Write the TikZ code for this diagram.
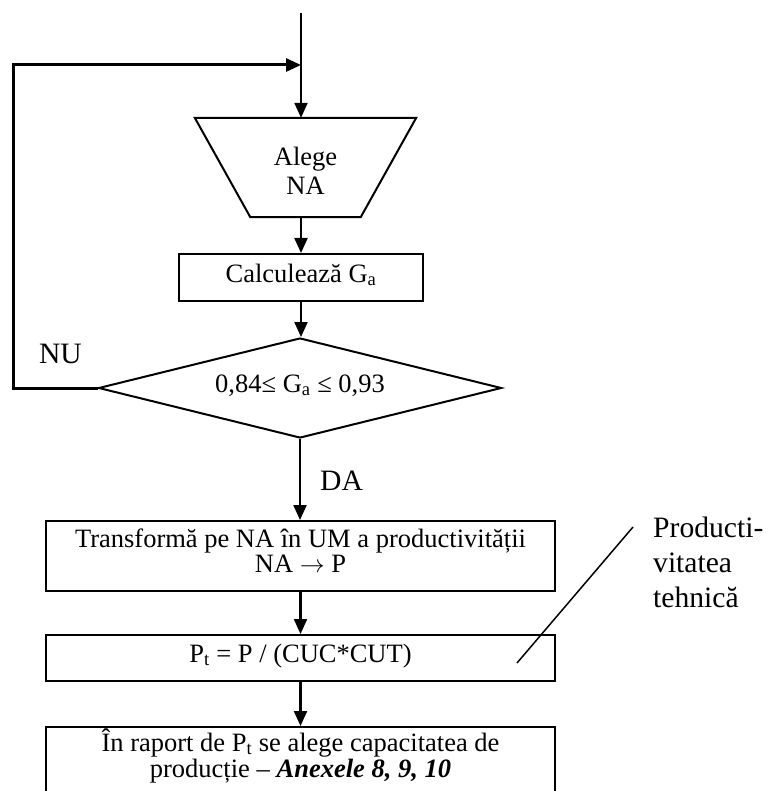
\documentclass[tikz,border=0pt]{standalone}
\usepackage{fontspec}
\setmainfont{Liberation Serif}
\usetikzlibrary{shapes.geometric,arrows.meta}
\newcommand{\mystrut}[2]{\rule[-#2]{0pt}{\dimexpr#1+#2\relax}}
\begin{document}
\begin{tikzpicture}[x=1pt,y=-1pt,
  boxtxt/.style={font=\fontsize{26.5pt}{25.5pt}\selectfont},
  frame/.style={draw, line width=2pt, inner sep=0pt, minimum width=509pt, align=center, boxtxt},
  arr/.style={line width=2.2pt, -{Triangle[length=15pt,width=13pt]}},
  fb/.style={line width=3pt, line join=miter, -{Triangle[length=15pt,width=13pt]}},
  lbl/.style={font=\fontsize{29.6pt}{35pt}\selectfont, inner sep=0pt},
  leader/.style={line width=1.5pt}
]
\useasboundingbox (0,0) rectangle (776,791);
\clip (0,0) rectangle (776,791);

% coordinates
\coordinate (start) at (301,13);
\coordinate (join) at (301,65);
\coordinate (fbc) at (13,65);

% trapezoid
\node[boxtxt, inner sep=0pt, minimum width=221pt, minimum height=99pt, align=center] (trap) at (305.5,167.5)
  {\mystrut{48pt}{0pt}Alege\\[3.5pt]NA\mystrut{0pt}{22pt}};
\draw[line width=2pt, line join=miter] (trap.north west) -- (trap.north east) -- ([xshift=-55.5pt]trap.south east) -- ([xshift=55.5pt]trap.south west) -- cycle;

% calc box
\node[draw, line width=2pt, inner sep=0pt, minimum width=244pt, minimum height=47pt, boxtxt] (calc) at (301,277.5)
  {\mystrut{28pt}{19pt}Calculează G\textsubscript{a}};

% decision
\node[diamond, draw, line width=2pt, aspect=4, inner sep=0pt, minimum width=403pt, minimum height=100pt, boxtxt] (dia) at (300,388)
  {\mystrut{20pt}{12pt}0,84≤ G\textsubscript{a} ≤ 0,93};

% boxes
\node[frame, minimum height=70pt] (b3) at (300.5,556)
  {\mystrut{26pt}{0pt}Transformă pe NA în UM a productivității\\[-0.5pt]NA $\rightarrow$ P\mystrut{0pt}{19pt}};
\node[frame, minimum height=46pt] (b4) at (300.5,658)
  {\mystrut{27pt}{19pt}P\textsubscript{t} = P / (CUC*CUT)};
\node[frame, minimum height=69pt] (b5) at (300.5,761.5)
  {\mystrut{24pt}{0pt}În raport de P\textsubscript{t} se alege capacitatea de\\[0.5pt]producție – \textbf{\textit{Anexele 8, 9, 10}}\mystrut{0pt}{19pt}};

% connectors
\draw[arr] (start) -- (start |- trap.north);
\draw[arr] (start |- trap.south) -- (calc.north);
\draw[arr] (calc.south) -- (calc.south |- dia.north);
\draw[arr] (dia.south) -- (dia.south |- b3.north);
\draw[arr] (b3.south) -- (b4.north);
\draw[arr] (b4.south) -- (b5.north);
\draw[fb] (dia.west) -| (fbc) -- (join);

% labels
\node[lbl, anchor=base] (nu) at (60.5,363) {NU};
\node[lbl, anchor=base west] (da) at (320,490) {DA};
\node[lbl, anchor=north west, align=left] (prod) at (653,512)
  {\mystrut{25pt}{0pt}Producti-\\vitatea\\tehnică};

% leader line
\coordinate (ldA) at (517,663);
\coordinate (ldB) at (633,527);
\draw[leader] (ldA) -- (ldB);
\end{tikzpicture}
\end{document}
